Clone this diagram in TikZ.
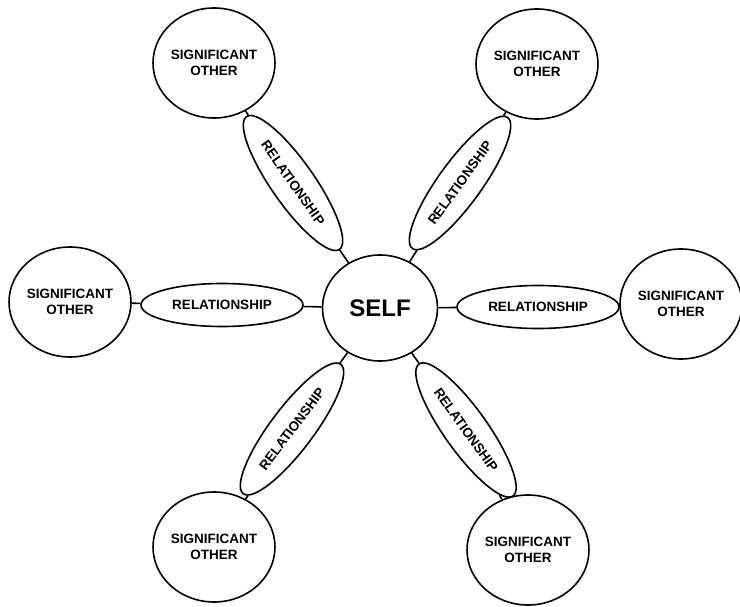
\documentclass[tikz,border=0pt]{standalone}
\usepackage{fontspec}
\setmainfont{Liberation Sans}
\usetikzlibrary{shapes.geometric}
\begin{document}
\begin{tikzpicture}[x=1pt,y=-1pt,line width=1.6pt,
  other/.style={draw,ellipse,minimum width=114pt,minimum height=110pt,inner sep=0pt,align=center,font=\fontsize{13.5}{16.5}\selectfont\bfseries},
  selfnode/.style={draw,ellipse,minimum width=115pt,minimum height=106pt,inner sep=0pt,font=\fontsize{24}{28}\selectfont\bfseries},
  rel/.style={draw,ellipse,minimum width=162pt,minimum height=43pt,inner sep=0pt,font=\fontsize{13.5}{16}\selectfont\bfseries}]
\useasboundingbox (0,0) rectangle (740,607);
\node[selfnode] (self) at (380,308) {SELF};
\node[other] (otl) at (214,63) {SIGNIFICANT\\OTHER};
\node[other] (otr) at (537,64) {SIGNIFICANT\\OTHER};
\node[other] (ol) at (70,302) {SIGNIFICANT\\OTHER};
\node[other] (or) at (681,304) {SIGNIFICANT\\OTHER};
\node[other] (obl) at (214,547) {SIGNIFICANT\\OTHER};
\node[other] (obr) at (528,550) {SIGNIFICANT\\OTHER};
\node[rel,rotate=-55] (rtl) at (293,183) {RELATIONSHIP};
\node[rel,rotate=54] (rtr) at (460,183) {RELATIONSHIP};
\node[rel] (rl) at (222,305) {RELATIONSHIP};
\node[rel] (rr) at (538,307) {RELATIONSHIP};
\node[rel,rotate=53] (rbl) at (292,429) {RELATIONSHIP};
\node[rel,rotate=-54.5] (rbr) at (466,430) {RELATIONSHIP};
\draw (self) -- (rtl) -- (otl);
\draw (self) -- (rtr) -- (otr);
\draw (self) -- (rl) -- (ol);
\draw (self) -- (rr) -- (or);
\draw (self) -- (rbl) -- (obl);
\draw (self) -- (rbr) -- (obr);
\end{tikzpicture}
\end{document}
